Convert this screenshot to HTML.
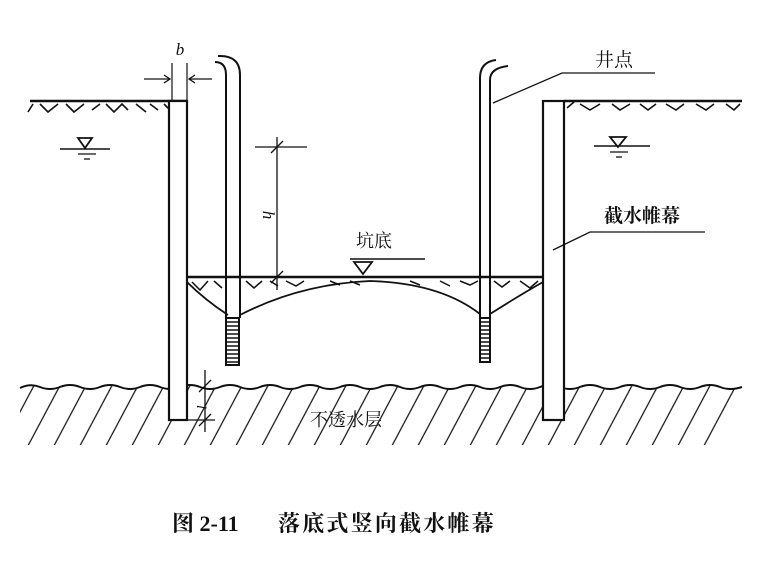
<!DOCTYPE html>
<html><head><meta charset="utf-8"><style>
html,body{margin:0;padding:0;background:#fff;}
svg{display:block}
text{font-family:"Liberation Serif","Noto Serif CJK SC","Noto Sans CJK SC",serif;fill:#111}
</style></head><body>
<svg width="768" height="575" viewBox="0 0 768 575" xmlns="http://www.w3.org/2000/svg">
<defs>
<pattern id="h" width="26" height="60" patternUnits="userSpaceOnUse" patternTransform="skewX(-28)">
<line x1="5" y1="0" x2="5" y2="60" stroke="#111" stroke-width="1.4"/>
</pattern>
<clipPath id="c"><path d="M20 388 Q30 383 40 387 T60 387 T80 387 T100 387 T120 387 T140 387 T160 387 T180 387 T200 387 T220 387 T240 387 T260 387 T280 387 T300 387 T320 387 T340 387 T360 387 T380 387 T400 387 T420 387 T440 387 T460 387 T480 387 T500 387 T520 387 T540 387 T560 387 T580 387 T600 387 T620 387 T640 387 T660 387 T680 387 T700 387 T720 387 T742 387 L742 405 L720 445 L20 445 Z"/></clipPath>
</defs>
<g stroke="#111" fill="none" stroke-width="2">
<rect x="20" y="380" width="740" height="70" fill="url(#h)" stroke="none" clip-path="url(#c)"/>
<path d="M20 388 Q30 383 40 387 T60 387 T80 387 T100 387 T120 387 T140 387 T160 387 T180 387 T200 387 T220 387 T240 387 T260 387 T280 387 T300 387 T320 387 T340 387 T360 387 T380 387 T400 387 T420 387 T440 387 T460 387 T480 387 T500 387 T520 387 T540 387 T560 387 T580 387 T600 387 T620 387 T640 387 T660 387 T680 387 T700 387 T720 387 T742 387"/>
<line x1="30" y1="101" x2="187" y2="101" stroke-width="2.5"/>
<line x1="564" y1="101" x2="742" y2="101" stroke-width="2.5"/>
<path d="M28 112 L33 104 M40 104 L48 112 L58 104 M66 104 L74 112 L84 104 M92 110 L100 104 M106 104 L114 112 L122 104 L128 110 M136 104 L146 112 M150 104 L158 110 M164 104 L172 112" stroke-width="1.6"/>
<path d="M567 108 L574 102 M580 104 L590 110 L600 104 M612 104 L620 110 L630 104 M640 104 L648 110 L656 104 M666 104 L676 110 L684 104 M696 104 L706 110 L714 104 M726 104 L734 110 L740 104" stroke-width="1.6"/>
<rect x="169" y="101" width="18" height="319" fill="#fff" stroke-width="2.2"/>
<rect x="543" y="101" width="21" height="319" fill="#fff" stroke-width="2.2"/>
<line x1="187" y1="277" x2="543" y2="277" stroke-width="2.5"/>
<path d="M192 282 L200 290 L208 281 M214 281 L222 288 M246 281 L254 288 L262 281 M270 281 L278 286 M286 281 L296 286 L304 281 M330 281 L340 285 M350 281 L360 285 M410 281 L420 285 M440 281 L450 286 M460 281 L470 285 L478 281 M494 281 L502 287 L510 281 M520 281 L530 288 L538 281" stroke-width="1.5"/>
<path d="M187 282 Q205 300 228 315" stroke-width="1.8"/>
<path d="M240 315 Q300 284 370 281 Q440 283 480 314" stroke-width="1.8"/>
<path d="M490 314 Q520 295 543 282" stroke-width="1.8"/>
<path d="M226 318 L226 75 Q226 62 215 62" stroke-width="2"/>
<path d="M240 318 L240 75 Q240 55 218 56" stroke-width="2"/>
<rect x="226" y="318" width="13" height="47" stroke-width="2"/>
<path d="M226 322 H239 M226 326 H239 M226 330 H239 M226 334 H239 M226 338 H239 M226 342 H239 M226 346 H239 M226 350 H239 M226 354 H239 M226 358 H239 M226 362 H239" stroke-width="1.6"/>
<path d="M480 318 L480 78 Q480 62 496 60" stroke-width="2"/>
<path d="M490 318 L490 80 Q490 68 508 66" stroke-width="2"/>
<rect x="480" y="318" width="10" height="44" stroke-width="2"/>
<path d="M480 322 H490 M480 326 H490 M480 330 H490 M480 334 H490 M480 338 H490 M480 342 H490 M480 346 H490 M480 350 H490 M480 354 H490 M480 358 H490" stroke-width="1.6"/>
<path d="M78 138 L92 138 L85 148 Z" stroke-width="1.8"/>
<line x1="60" y1="149" x2="110" y2="149" stroke-width="1.5"/>
<line x1="78" y1="154" x2="96" y2="154" stroke-width="1.3"/>
<line x1="84" y1="159" x2="90" y2="159" stroke-width="1.3"/>
<path d="M610 137 L626 137 L618 147 Z" stroke-width="1.8"/>
<line x1="594" y1="146" x2="650" y2="146" stroke-width="1.5"/>
<line x1="610" y1="152" x2="628" y2="152" stroke-width="1.3"/>
<line x1="616" y1="157" x2="622" y2="157" stroke-width="1.3"/>
<path d="M354 262 L372 262 L363 274 Z" stroke-width="1.8"/>
<line x1="350" y1="259" x2="425" y2="259" stroke-width="1.5"/>
<line x1="172" y1="63" x2="172" y2="100" stroke-width="1.2"/>
<line x1="187" y1="63" x2="187" y2="100" stroke-width="1.2"/>
<path d="M144 79 L170 79 M164 75 L170 79 L164 83" stroke-width="1.3"/>
<path d="M212 79 L189 79 M195 75 L189 79 L195 83" stroke-width="1.3"/>
<line x1="255" y1="147" x2="307" y2="147" stroke-width="1.3"/>
<line x1="277" y1="137" x2="277" y2="290" stroke-width="1.3"/>
<path d="M271 153 L283 141 M271 283 L283 271" stroke-width="1.3"/>
<line x1="205" y1="370" x2="205" y2="432" stroke-width="1.3"/>
<path d="M199 392 L211 380 M199 426 L211 414" stroke-width="1.3"/>
<line x1="187" y1="420" x2="215" y2="420" stroke-width="1.2"/>
<path d="M493 103 L562 73 L655 73" stroke-width="1.3"/>
<path d="M553 250 L590 232 L705 232" stroke-width="1.3"/>
</g>
<text x="180" y="55" font-size="17" font-style="italic" text-anchor="middle">b</text>
<text x="263" y="215" font-size="17" font-style="italic" text-anchor="middle" transform="rotate(90 263 215)">h</text>
<text x="197" y="407" font-size="14" font-style="italic" text-anchor="middle" transform="rotate(90 197 407)">l</text>
<text x="595" y="66" font-size="19">井点</text>
<text x="604" y="222" font-size="19" font-weight="bold">截水帷幕</text>
<text x="356" y="247" font-size="18">坑底</text>
<text x="310" y="426" font-size="18">不透水层</text>
<text x="172" y="531" font-size="22" font-weight="bold">图 2-11</text>
<text x="278" y="531" font-size="22" font-weight="bold" letter-spacing="2.2">落底式竖向截水帷幕</text>
</svg>
</body></html>
